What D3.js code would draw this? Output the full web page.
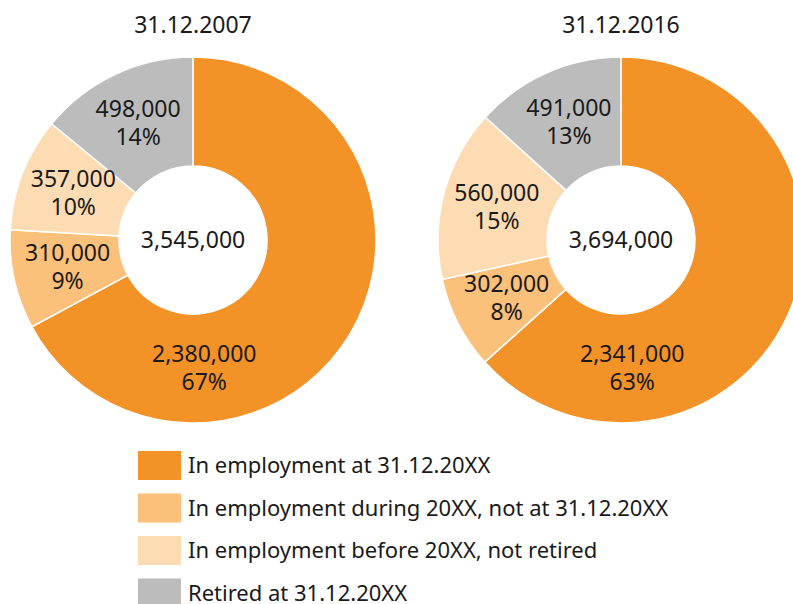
<!DOCTYPE html>
<html>
<head>
<meta charset="utf-8">
<script src="https://cdn.jsdelivr.net/npm/d3@7"></script>
<style>
  body { margin: 0; background: #fff; }
  svg text { font-family: "Noto Sans", sans-serif; fill: #1a1a1a; }
</style>
</head>
<body>
<div id="chart"></div>
<script>
const width = 793;
const height = 604;

const categories = [
  "In employment at 31.12.20XX",
  "In employment during 20XX, not at 31.12.20XX",
  "In employment before 20XX, not retired",
  "Retired at 31.12.20XX"
];
const dates = ["31.12.2007", "31.12.2016"];
const values2007 = [2380000, 310000, 357000, 498000];
const values2016 = [2341000, 302000, 560000, 491000];
const pct2007 = ["67%", "9%", "10%", "14%"];
const pct2016 = ["63%", "8%", "15%", "13%"];
const totals = [3545000, 3694000];

const colors = ["#f39226", "#fbc079", "#fddcb4", "#bbbcbb"];
const fmt = d3.format(",");

const svg = d3.select("#chart")
  .append("svg")
  .attr("width", width)
  .attr("height", height);

const outerR = 183;
const innerR = 74;
const centers = [193, 621];
const cy = 240;

const pie = d3.pie().sort(null).value(d => d);
const arc = d3.arc().innerRadius(innerR).outerRadius(outerR);
const labelArc = d3.arc().innerRadius(innerR + 2).outerRadius(outerR - 2);

const charts = [
  { values: values2007, pct: pct2007 },
  { values: values2016, pct: pct2016 }
];

charts.forEach((c, i) => {
  const g = svg.append("g")
    .attr("transform", `translate(${centers[i]},${cy})`);

  svg.append("text")
    .attr("x", centers[i])
    .attr("y", 33)
    .attr("text-anchor", "middle")
    .style("font-size", "23px")
    .text(dates[i]);

  const arcs = pie(c.values);

  g.selectAll("path")
    .data(arcs)
    .enter()
    .append("path")
    .attr("d", arc)
    .attr("fill", (d, j) => colors[j])
    .attr("stroke", "#fff")
    .attr("stroke-width", 1.5);

  const lbl = g.selectAll(".lbl")
    .data(arcs)
    .enter()
    .append("text")
    .attr("class", "lbl")
    .attr("text-anchor", "middle")
    .style("font-size", "23px")
    .attr("transform", (d, j) => {
      let p;
      if (j === 0) {
        // big slice: label sits near the bottom
        const a = 175 * Math.PI / 180;
        p = [129 * Math.sin(a), -129 * Math.cos(a)];
      } else {
        p = labelArc.centroid(d);
      }
      return `translate(${p[0]},${p[1] - 6.5})`;
    });

  lbl.append("tspan")
    .attr("x", 0)
    .attr("y", 0)
    .text(d => fmt(d.data));
  lbl.append("tspan")
    .attr("x", 0)
    .attr("y", 28)
    .text((d, j) => c.pct[j]);

  g.append("text")
    .attr("text-anchor", "middle")
    .attr("y", 8)
    .style("font-size", "23px")
    .text(fmt(totals[i]));
});

const legend = svg.append("g");
const row = legend.selectAll("g")
  .data(categories)
  .enter()
  .append("g")
  .attr("transform", (d, i) => `translate(138,${451 + i * 42.5})`);

row.append("rect")
  .attr("width", 43)
  .attr("height", 29)
  .attr("fill", (d, i) => colors[i]);

row.append("text")
  .attr("x", 50)
  .attr("y", 22)
  .style("font-size", "22px")
  .text(d => d);
</script>
</body>
</html>
